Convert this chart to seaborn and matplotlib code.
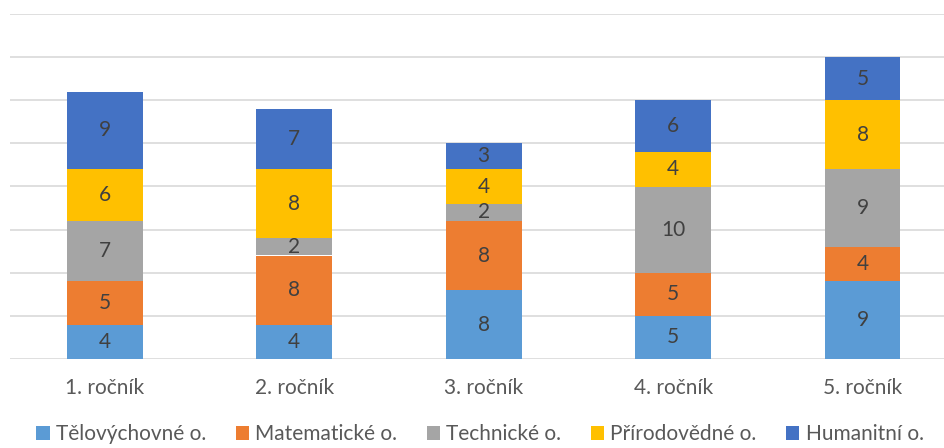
import numpy as np
import matplotlib
matplotlib.use("Agg")
import matplotlib.pyplot as plt
import seaborn as sns

categories = ["1. ročník", "2. ročník", "3. ročník", "4. ročník", "5. ročník"]
series_names = ["Tělovýchovné o.", "Matematické o.", "Technické o.", "Přírodovědné o.", "Humanitní o."]
telovychovne = [4, 4, 8, 5, 9]
matematicke = [5, 8, 8, 5, 4]
technicke = [7, 2, 2, 10, 9]
prirodovedne = [6, 8, 4, 4, 8]
humanitni = [9, 7, 3, 6, 5]
colors = ["#5B9BD5", "#ED7D31", "#A5A5A5", "#FFC000", "#4472C4"]

sns.set_style("white")
plt.rcParams['font.family'] = ['Lato', 'DejaVu Sans']

fig = plt.figure(figsize=(9.44, 4.48), dpi=100)
ax = fig.add_axes([10/944, 89/448, 934/944, 345/448])

bottom = np.zeros(len(categories))
for name, vals, col in zip(series_names, [telovychovne, matematicke, technicke, prirodovedne, humanitni], colors):
    sns.barplot(x=categories, y=vals, bottom=bottom, color=col, width=0.4, saturation=1,
                linewidth=0, label=name, ax=ax, zorder=3)
    for i, v in enumerate(vals):
        ax.text(i, bottom[i] + v / 2, str(v), ha="center", va="center",
                fontsize=15, color="#404040", zorder=4)
    bottom = bottom + np.array(vals)

ax.set_ylim(0, 40)
ax.set_xlim(-0.5, 4.43)
ax.set_yticks(range(0, 41, 5))
ax.yaxis.grid(True, color="#D9D9D9", linewidth=1.2, zorder=0)
ax.tick_params(axis="y", left=False, labelleft=False)
ax.tick_params(axis="x", bottom=False, labelsize=15, labelcolor="#595959", pad=10)
for s in ax.spines.values():
    s.set_visible(False)
ax.set_xlabel("")
ax.set_ylabel("")

leg = ax.legend(loc="upper center", bbox_to_anchor=(480/934 - 10/934, -0.158), ncol=5,
                frameon=False, fontsize=15, handlelength=0.65, handleheight=0.65,
                handletextpad=0.3, columnspacing=1.4, borderpad=0.0)
for t in leg.get_texts():
    t.set_color("#595959")

fig.savefig("out.png", dpi=100)
